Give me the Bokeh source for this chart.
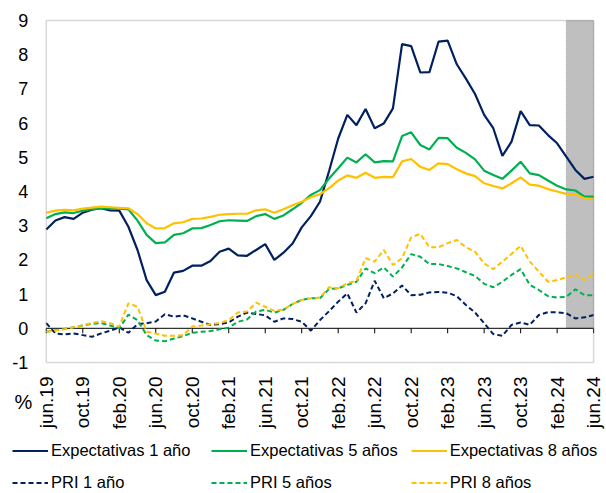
import math
from bokeh.plotting import figure
from bokeh.models import (BoxAnnotation, Legend, LegendItem, Range1d, ColumnDataSource)
from bokeh.core.properties import value
from bokeh.embed import file_html
from bokeh.resources import INLINE

# ---- data -------------------------------------------------------------
months = list(range(61))  # 0 = jun.19 ... 60 = jun.24
tick_pos = list(range(0, 61, 4))
tick_labels = ["jun.19", "oct.19", "feb.20", "jun.20", "oct.20", "feb.21",
               "jun.21", "oct.21", "feb.22", "jun.22", "oct.22", "feb.23",
               "jun.23", "oct.23", "feb.24", "jun.24"]

exp1 = [2.89, 3.15, 3.25, 3.20, 3.38, 3.47, 3.51, 3.45, 3.44, 2.97,
        2.29, 1.41, 0.97, 1.07, 1.63, 1.68, 1.83, 1.83, 1.97, 2.24,
        2.33, 2.13, 2.12, 2.29, 2.46, 2.00, 2.21, 2.48, 2.95, 3.28,
        3.70, 4.60, 5.55, 6.24, 5.94, 6.41, 5.85, 5.99, 6.43, 8.31,
        8.25, 7.48, 7.49, 8.38, 8.41, 7.72, 7.30, 6.85, 6.24, 5.85,
        5.04, 5.46, 6.35, 5.94, 5.93, 5.65, 5.41, 5.02, 4.63, 4.37,
        4.43]
exp5 = [3.22, 3.34, 3.39, 3.37, 3.44, 3.48, 3.51, 3.50, 3.50, 3.48,
        3.15, 2.73, 2.49, 2.51, 2.73, 2.78, 2.92, 2.93, 3.02, 3.13,
        3.16, 3.15, 3.14, 3.28, 3.34, 3.20, 3.30, 3.48, 3.67, 3.90,
        4.04, 4.38, 4.68, 4.99, 4.85, 5.09, 4.85, 4.89, 4.88, 5.62,
        5.73, 5.36, 5.23, 5.57, 5.56, 5.28, 5.13, 4.94, 4.61, 4.48,
        4.37, 4.61, 4.87, 4.53, 4.48, 4.32, 4.17, 4.06, 4.03, 3.85,
        3.85]
exp8 = [3.38, 3.44, 3.46, 3.45, 3.50, 3.53, 3.56, 3.54, 3.52, 3.51,
        3.34, 3.07, 2.92, 2.93, 3.07, 3.10, 3.20, 3.21, 3.26, 3.32,
        3.34, 3.35, 3.35, 3.45, 3.48, 3.38, 3.48, 3.60, 3.70, 3.83,
        3.92, 4.10, 4.32, 4.47, 4.40, 4.55, 4.40, 4.43, 4.42, 4.88,
        4.95, 4.72, 4.63, 4.82, 4.80, 4.65, 4.53, 4.45, 4.24, 4.16,
        4.09, 4.24, 4.41, 4.20, 4.17, 4.07, 4.00, 3.93, 3.91, 3.80,
        3.78]
pri1 = [0.15, -0.15, -0.18, -0.15, -0.20, -0.25, -0.15, -0.07, 0.03, -0.13,
        0.12, 0.15, 0.20, 0.41, 0.34, 0.38, 0.29, 0.19, 0.10, 0.12,
        0.17, 0.34, 0.46, 0.42, 0.38, 0.19, 0.29, 0.27, 0.19, -0.07,
        0.24, 0.50, 0.78, 1.02, 0.46, 0.73, 1.39, 0.88, 1.02, 1.25,
        0.97, 0.98, 1.05, 1.06, 1.04, 0.94, 0.68, 0.46, 0.15, -0.17,
        -0.22, 0.10, 0.17, 0.10, 0.39, 0.47, 0.47, 0.44, 0.29, 0.32,
        0.39]
pri5 = [-0.10, -0.06, -0.02, 0.03, 0.08, 0.13, 0.15, 0.08, 0.00, 0.40,
        0.24, -0.20, -0.36, -0.38, -0.30, -0.23, -0.13, -0.10, -0.08, -0.03,
        0.02, 0.19, 0.26, 0.49, 0.54, 0.46, 0.54, 0.71, 0.83, 0.88,
        0.88, 1.15, 1.17, 1.27, 1.36, 1.75, 1.61, 1.78, 1.51, 1.78,
        2.17, 2.09, 1.88, 1.88, 1.82, 1.75, 1.64, 1.53, 1.30, 1.20,
        1.36, 1.56, 1.73, 1.27, 1.12, 0.94, 0.90, 0.92, 1.14, 0.97,
        0.97]
pri8 = [-0.10, -0.06, -0.03, 0.03, 0.09, 0.15, 0.21, 0.15, 0.05, 0.73,
        0.63, -0.10, -0.15, -0.22, -0.22, -0.20, 0.05, 0.08, 0.12, 0.15,
        0.24, 0.46, 0.49, 0.75, 0.63, 0.51, 0.55, 0.71, 0.83, 0.88,
        0.90, 1.20, 1.17, 1.32, 1.39, 2.05, 1.95, 2.29, 1.85, 2.05,
        2.66, 2.76, 2.37, 2.37, 2.49, 2.58, 2.37, 2.24, 1.90, 1.73,
        1.95, 2.17, 2.41, 1.95, 1.66, 1.36, 1.41, 1.49, 1.58, 1.41,
        1.59]

series_names = ["Expectativas 1 año", "Expectativas 5 años", "Expectativas 8 años",
                "PRI 1 año", "PRI 5 años", "PRI 8 años"]
unit_label = "%"

shade_start = 57
shade_end = 60
y_min, y_max = -1, 9
y_ticks = list(range(y_min, y_max + 1))
y_tick_labels = [str(v) for v in y_ticks]

# ---- layout / style parameters -----------------------------------------
W, H = 606, 493
NAVY = "#002060"
GREEN = "#00B050"
GOLD = "#FFC000"
FONT = "Liberation Sans"
PX_PER_MONTH = 9.122
X0_PX = 45.8             # pixel of the first month (left edge of the plot box)
PX_PER_UNIT = 34.2
YTOP_PX = 20             # pixel of y_max (top edge of the plot box)

x_lo = months[0] - X0_PX / PX_PER_MONTH
x_hi = x_lo + W / PX_PER_MONTH
y_hi = y_max + YTOP_PX / PX_PER_UNIT
y_lo = y_hi - H / PX_PER_UNIT

p = figure(width=W, height=H, x_range=Range1d(x_lo, x_hi),
           y_range=Range1d(y_lo, y_hi), output_backend="svg",
           toolbar_location=None, x_axis_location=None, y_axis_location=None,
           min_border_left=0, min_border_right=0, min_border_top=0,
           min_border_bottom=0)
p.grid.visible = False
p.outline_line_color = None
p.background_fill_color = "white"
p.border_fill_color = "white"

# forecast shading (dotted edge)
p.add_layout(BoxAnnotation(left=shade_start, right=shade_end, bottom=0, top=y_max,
                           fill_color="#BFBFBF", fill_alpha=1.0,
                           line_color="#404040", line_width=1, line_dash="1 1",
                           level="underlay"))

# zero axis line with downward ticks
p.segment(x0=[months[0]], y0=[0], x1=[months[-1]], y1=[0],
          line_color="black", line_width=1)
tick_src = ColumnDataSource(dict(x=tick_pos, y0=[0] * len(tick_pos),
                                 y1=[-5 / PX_PER_UNIT] * len(tick_pos)))
p.segment(x0="x", y0="y0", x1="x", y1="y1", source=tick_src,
          line_color="black", line_width=1)

src = ColumnDataSource(dict(m=months, exp1=exp1, exp5=exp5, exp8=exp8,
                            pri1=pri1, pri5=pri5, pri8=pri8))
r_e1 = p.line("m", "exp1", source=src, line_color=NAVY, line_width=2.2)
r_e5 = p.line("m", "exp5", source=src, line_color=GREEN, line_width=2.2)
r_e8 = p.line("m", "exp8", source=src, line_color=GOLD, line_width=2.2)
r_p1 = p.line("m", "pri1", source=src, line_color=NAVY, line_width=2, line_dash="5 3")
r_p5 = p.line("m", "pri5", source=src, line_color=GREEN, line_width=2, line_dash="5 3")
r_p8 = p.line("m", "pri8", source=src, line_color=GOLD, line_width=2, line_dash="5 3")

# plot-area border
p.add_layout(BoxAnnotation(left=months[0], right=months[-1], bottom=y_min, top=y_max,
                           fill_alpha=0, line_color="#7F7F7F", line_width=1.5))

# y tick labels
ylab_src = ColumnDataSource(dict(x=[months[0]] * len(y_ticks), y=y_ticks, t=y_tick_labels))
p.text(x="x", y="y", text="t", source=ylab_src, x_offset=-18,
       text_align="right", text_baseline="middle",
       text_font=value(FONT), text_font_size="18px", text_color="black")

# month labels (rotated, below the box)
lab_src = ColumnDataSource(dict(x=tick_pos, y=[y_min] * len(tick_pos), t=tick_labels))
p.text(x="x", y="y", text="t", source=lab_src, angle=math.pi / 2,
       text_align="right", text_baseline="middle", y_offset=14,
       text_font=value(FONT), text_font_size="19px", text_color="black")

# unit label under the y axis
p.text(x=[months[0]], y=[y_min], text=[unit_label], x_offset=-23, y_offset=39,
       text_align="center", text_baseline="middle",
       text_font=value(FONT), text_font_size="20px", text_color="black")

legend = Legend(items=[LegendItem(label=n, renderers=[r]) for n, r in
                       zip(series_names, [r_e1, r_e5, r_e8, r_p1, r_p5, r_p8])],
                ncols=3, orientation="horizontal", location=(12, 1),
                glyph_width=36, glyph_height=17, label_standoff=3, label_width=147,
                label_height=17, spacing=13, padding=0, margin=0,
                border_line_color=None, background_fill_alpha=0,
                label_text_font=FONT, label_text_font_size="16.5px",
                label_text_color="black")
p.add_layout(legend, "center")

open("out.html", "w").write(file_html(p, INLINE))
